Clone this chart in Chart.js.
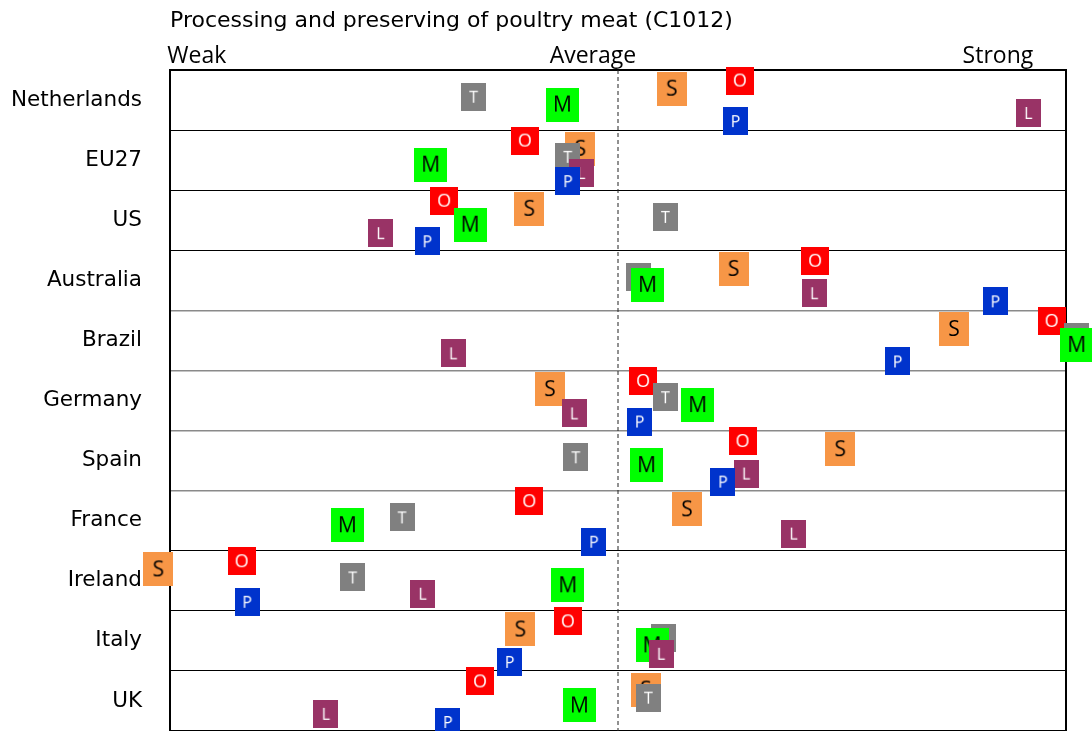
<!DOCTYPE html>
<html>
<head>
<meta charset="utf-8">
<script src="https://cdn.jsdelivr.net/npm/chart.js@4"></script>
<style>
  html, body { margin: 0; padding: 0; background: #fff; }
  #wrap { width: 1092px; height: 731px; }
</style>
</head>
<body>
<div id="wrap"><canvas id="poultry" width="1092" height="731"></canvas></div>
<script>
// rows, top to bottom
const countries = ['Netherlands', 'EU27', 'US', 'Australia', 'Brazil', 'Germany', 'Spain', 'France', 'Ireland', 'Italy', 'UK'];

// labels along the top scale (0 = weakest, 100 = strongest)
const scaleLabels = ['Weak', 'Average', 'Strong'];
const scaleLabelValues = [3.0, 47.2, 92.4];
const averageValue = 50;

// one value per country for every indicator
const valuesS = [56.0, 45.8, 40.1, 62.9, 87.5, 42.4, 74.8, 57.7, -1.3, 39.1, 53.1];
const valuesO = [63.6, 39.6, 30.6, 72.0, 98.4, 52.8, 63.9, 40.1, 8.0, 44.4, 34.6];
const valuesT = [33.9, 44.4, 55.3, 52.3, 101.2, 55.3, 45.3, 25.9, 20.4, 55.1, 53.4];
const valuesM = [43.8, 29.1, 33.5, 53.3, 101.2, 58.9, 53.2, 19.8, 44.4, 53.8, 45.7];
const valuesL = [95.8, 45.9, 23.5, 71.9, 31.6, 45.1, 64.3, 69.6, 28.2, 54.8, 17.4];
const valuesP = [63.1, 44.4, 28.7, 92.1, 81.2, 52.4, 61.7, 47.3, 8.6, 37.9, 31.0];

// square marker with a letter, used as point image
function makeMarker(letter, bg, fg, w, h, size) {
  const c = document.createElement('canvas');
  c.width = w;
  c.height = h;
  const g = c.getContext('2d');
  g.fillStyle = bg;
  g.fillRect(0, 0, w, h);
  g.fillStyle = fg;
  g.font = size + 'px "Open Sans"';
  g.textAlign = 'center';
  g.textBaseline = 'middle';
  g.fillText(letter, w / 2, h / 2 + 1);
  return c;
}

// offset = place inside the row, order = lower is drawn on top
const series = [
  { letter: 'S', values: valuesS, bg: '#F79646', fg: '#000', w: 30, h: 34, size: 21, offset: 0.31, order: 6 },
  { letter: 'O', values: valuesO, bg: '#FF0000', fg: '#fff', w: 28, h: 28, size: 18, offset: 0.175, order: 5 },
  { letter: 'T', values: valuesT, bg: '#808080', fg: '#fff', w: 25, h: 28, size: 16, offset: 0.445, order: 4 },
  { letter: 'M', values: valuesM, bg: '#00FF00', fg: '#000', w: 33, h: 34, size: 21, offset: 0.575, order: 3 },
  { letter: 'L', values: valuesL, bg: '#993366', fg: '#fff', w: 25, h: 28, size: 16, offset: 0.715, order: 2 },
  { letter: 'P', values: valuesP, bg: '#0033CC', fg: '#fff', w: 25, h: 28, size: 16, offset: 0.85, order: 1 }
];

const datasets = series.map(s => ({
  label: s.letter,
  data: s.values.map((v, i) => ({ x: v, y: i + s.offset })),
  pointStyle: makeMarker(s.letter, s.bg, s.fg, s.w, s.h, s.size),
  pointRadius: 18,
  borderWidth: 0,
  clip: false,
  order: s.order
}));

// dashed average line
datasets.push({
  type: 'line',
  label: 'Average',
  data: [{ x: averageValue, y: 0 }, { x: averageValue, y: countries.length }],
  borderColor: '#222',
  borderWidth: 1,
  borderDash: [4, 3],
  pointRadius: 0,
  order: 10
});

// box round the plot, under the markers
const frame = {
  id: 'frame',
  beforeDatasetsDraw(chart) {
    const { ctx, chartArea: a } = chart;
    ctx.save();
    ctx.strokeStyle = '#000';
    ctx.lineWidth = 2;
    ctx.strokeRect(a.left, a.top, a.right - a.left, a.bottom - a.top);
    ctx.restore();
  }
};

const ctx = document.getElementById('poultry').getContext('2d');
const chart = new Chart(ctx, {
  type: 'scatter',
  data: { datasets: datasets },
  options: {
    responsive: false,
    animation: false,
    layout: { autoPadding: false, padding: { left: 0, right: 26, top: 0, bottom: 0 } },
    plugins: {
      legend: { display: false },
      tooltip: { enabled: false },
      title: {
        display: true,
        text: 'Processing and preserving of poultry meat (C1012)',
        align: 'start',
        fullSize: false,
        color: '#000',
        font: { family: '"DejaVu Sans"', size: 22, weight: 'normal', lineHeight: 1.2 },
        padding: { top: 8, bottom: 0 }
      }
    },
    scales: {
      x: {
        type: 'linear',
        position: 'top',
        min: 0,
        max: 100,
        grid: { display: false, drawTicks: false },
        border: { display: false },
        afterBuildTicks: s => { s.ticks = scaleLabelValues.map(v => ({ value: v })); },
        afterFit: s => {
          s.height = 35.6;
          s.paddingLeft = 0;
          s.paddingRight = 0;
        },
        ticks: {
          autoSkip: false,
          maxRotation: 0,
          padding: 0,
          color: '#000',
          font: { family: '"Open Sans"', size: 23 },
          callback: (v, i) => scaleLabels[i]
        }
      },
      y: {
        type: 'linear',
        min: 0,
        max: countries.length,
        reverse: true,
        afterBuildTicks: s => { s.ticks = countries.map((c, i) => ({ value: i + 0.5 })); },
        afterFit: s => {
          s.width = 170;
          s.paddingTop = 0;
          s.paddingBottom = 0;
        },
        grid: {
          offset: true,
          drawTicks: false,
          color: c => (c.index >= 4 && c.index <= 7) ? '#8a8a8a' : '#000',
          lineWidth: c => (c.index >= 4 && c.index <= 7) ? 1.5 : 1
        },
        border: { display: false },
        ticks: {
          autoSkip: false,
          padding: 28,
          color: '#000',
          font: { family: '"DejaVu Sans"', size: 21.5 },
          callback: (v, i) => countries[i]
        }
      }
    }
  },
  plugins: [frame]
});
</script>
</body>
</html>
